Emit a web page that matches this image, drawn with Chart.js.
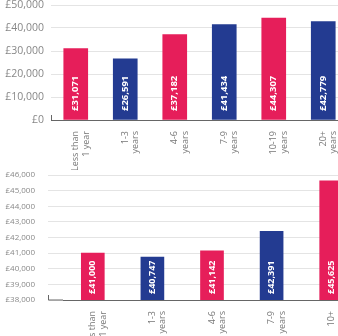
<!DOCTYPE html>
<html>
<head>
<meta charset="utf-8">
<script src="https://cdn.jsdelivr.net/npm/chart.js@4.4.0/dist/chart.umd.min.js"></script>
<style>
  html, body { margin: 0; padding: 0; background: #fff; overflow: hidden; width: 338px; height: 336px; }
  .box { position: absolute; left: 0; }
  #top { top: 0; width: 350px; height: 170px; }
  #bottom { top: 168px; width: 362px; height: 180px; }
</style>
</head>
<body>
<div class="box" id="top"><canvas id="chartTop"></canvas></div>
<div class="box" id="bottom"><canvas id="chartBottom"></canvas></div>
<script>
const topLabels = [['Less than', '1 year'], ['1-3', 'years'], ['4-6', 'years'], ['7-9', 'years'], ['10-19', 'years'], ['20+', 'years']];
const topValues = [31071, 26591, 37182, 41434, 44307, 42779];

const bottomLabels = [['Less than', '1 year'], ['1-3', 'years'], ['4-6', 'years'], ['7-9', 'years'], ['10+', 'years']];
const bottomValues = [41000, 40747, 41142, 42391, 45625];

const PINK = '#E61E5A';
const NAVY = '#233B91';
const alternate = n => Array.from({ length: n }, (_, i) => i % 2 === 0 ? PINK : NAVY);

const money = v => '£' + v.toLocaleString('en-GB');

// white value text, rotated, sitting near the bottom of each bar
const barText = {
    id: 'barText',
    afterDatasetsDraw(chart, args, opts) {
        const c = chart.ctx;
        const meta = chart.getDatasetMeta(0);
        const base = chart.chartArea.bottom;
        c.save();
        c.fillStyle = '#fff';
        c.font = opts.font;
        c.textAlign = 'left';
        c.textBaseline = 'middle';
        meta.data.forEach((bar, i) => {
            c.save();
            c.translate(bar.x, base - opts.offset);
            c.rotate(-Math.PI / 2);
            c.fillText(money(chart.data.datasets[0].data[i]), 0, 0);
            c.restore();
        });
        c.restore();
    }
};

// the little upright mark at the left end of the base line
const cornerMark = {
    id: 'cornerMark',
    afterDraw(chart, args, opts) {
        const c = chart.ctx;
        const y = chart.chartArea.bottom;
        c.save();
        c.strokeStyle = '#666';
        c.lineWidth = 1;
        c.beginPath();
        c.moveTo(opts.x + 0.5, y - 5);
        c.lineTo(opts.x + 0.5, y);
        c.lineTo(chart.chartArea.left, y);
        c.stroke();
        c.restore();
    }
};

function makeChart(id, labels, values, cfg) {
    return new Chart(document.getElementById(id), {
        type: 'bar',
        data: {
            labels: labels,
            datasets: [{
                data: values,
                backgroundColor: alternate(values.length),
                barThickness: cfg.barWidth,
            }]
        },
        options: {
            responsive: true,
            maintainAspectRatio: false,
            animation: false,
            layout: { padding: { top: cfg.padTop, right: cfg.padRight, left: 0, bottom: 0 } },
            plugins: {
                legend: { display: false },
                tooltip: { enabled: false },
                barText: { font: cfg.valueFont, offset: cfg.valueOffset },
                cornerMark: { x: cfg.markX },
            },
            scales: {
                x: {
                    grid: { display: false },
                    border: { display: true, color: '#666', width: 1 },
                    ticks: {
                        color: '#777',
                        font: { family: 'Open Sans', size: cfg.xFont, lineHeight: 1.15 },
                        minRotation: 90,
                        maxRotation: 90,
                        padding: 3,
                        autoSkip: false,
                    },
                    afterFit(scale) {
                        scale.height = cfg.xHeight;
                        scale.paddingLeft = 0;
                        scale.paddingRight = 0;
                    }
                },
                y: {
                    min: cfg.min,
                    max: cfg.max,
                    grid: {
                        color: '#e4e4e4',
                        drawTicks: cfg.tickLen > 0,
                        tickLength: cfg.tickLen,
                    },
                    border: { display: false },
                    ticks: {
                        stepSize: cfg.step,
                        color: '#888',
                        padding: cfg.yPad,
                        font: { family: 'Open Sans', size: cfg.yFont },
                        callback: v => money(v),
                    },
                    afterFit(scale) {
                        scale.width = cfg.yWidth;
                        scale.paddingTop = 0;
                        scale.paddingBottom = 0;
                    }
                }
            }
        },
        plugins: [barText, cornerMark]
    });
}

makeChart('chartTop', topLabels, topValues, {
    min: 0, max: 50000, step: 10000,
    barWidth: 24, padTop: 5, padRight: 2,
    xHeight: 50, yWidth: 51, yPad: 7, tickLen: 0,
    xFont: 9, yFont: 10.5,
    valueFont: 'bold 9.5px "Open Sans"', valueOffset: 9,
    markX: 51,
});

makeChart('chartBottom', bottomLabels, bottomValues, {
    min: 38000, max: 46000, step: 1000,
    barWidth: 23, padTop: 7, padRight: 1,
    xHeight: 48, yWidth: 63, yPad: 13, tickLen: 15,
    xFont: 9, yFont: 8,
    valueFont: 'bold 9px "Open Sans"', valueOffset: 6,
    markX: 48,
});
</script>
</body>
</html>
